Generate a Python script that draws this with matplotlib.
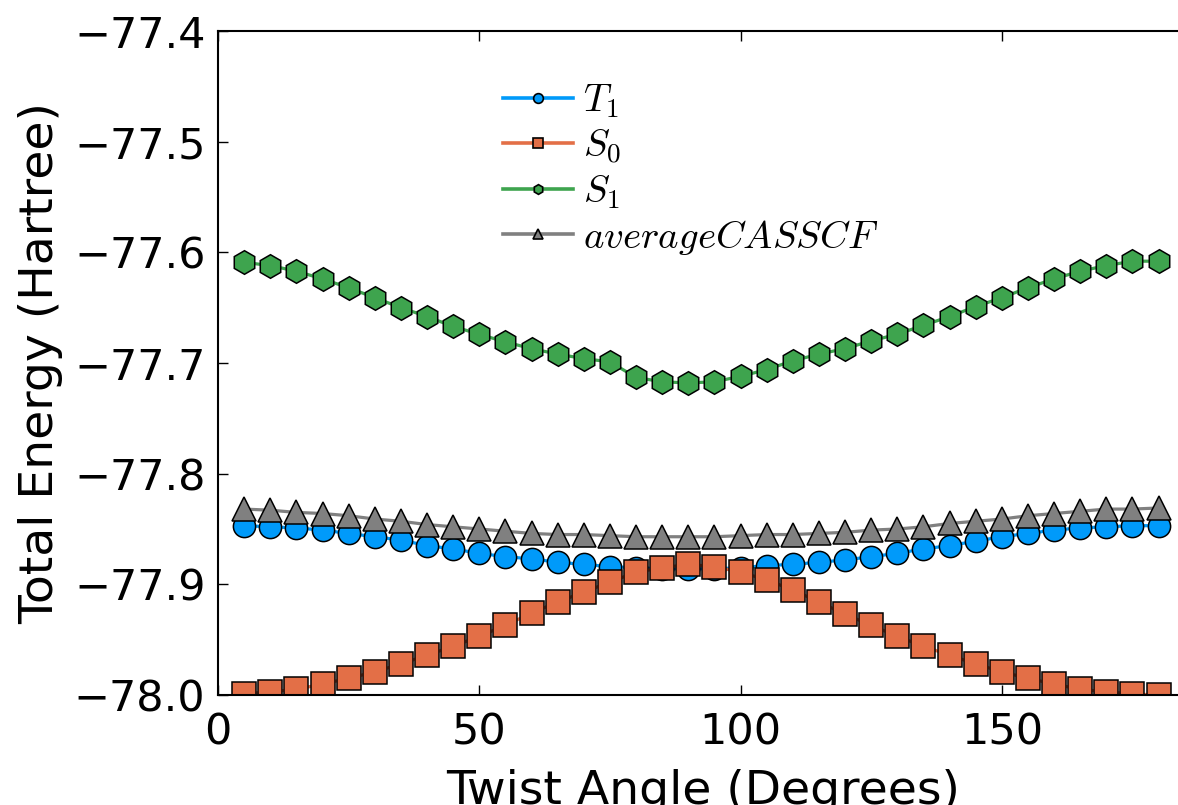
import matplotlib
matplotlib.use("Agg")
import matplotlib.pyplot as plt
from matplotlib.lines import Line2D

plt.rcParams['mathtext.fontset'] = 'cm'
plt.rcParams['font.family'] = 'DejaVu Sans'

# Twist angle (degrees)
angles = [5, 10, 15, 20, 25, 30, 35, 40, 45, 50, 55, 60, 65, 70, 75, 80, 85, 90,
          95, 100, 105, 110, 115, 120, 125, 130, 135, 140, 145, 150, 155, 160, 165, 170, 175, 180]

# Total energies (Hartree)
t1 = [-77.847, -77.848, -77.849, -77.851, -77.854, -77.857, -77.860, -77.865, -77.868,
      -77.872, -77.875, -77.877, -77.880, -77.882, -77.884, -77.885, -77.886, -77.886,
      -77.886, -77.885, -77.883, -77.882, -77.880, -77.878, -77.875, -77.872, -77.868,
      -77.865, -77.861, -77.857, -77.854, -77.851, -77.849, -77.848, -77.847, -77.847]
s0 = [-77.999, -77.997, -77.995, -77.990, -77.985, -77.979, -77.972, -77.964, -77.956,
      -77.947, -77.937, -77.926, -77.916, -77.907, -77.898, -77.889, -77.885, -77.882,
      -77.884, -77.889, -77.896, -77.905, -77.916, -77.927, -77.937, -77.947, -77.956,
      -77.964, -77.972, -77.979, -77.985, -77.990, -77.995, -77.997, -77.999, -78.000]
s1 = [-77.609, -77.612, -77.617, -77.624, -77.632, -77.641, -77.650, -77.658, -77.667,
      -77.674, -77.681, -77.687, -77.692, -77.696, -77.699, -77.713, -77.717, -77.718,
      -77.717, -77.712, -77.706, -77.698, -77.692, -77.687, -77.680, -77.674, -77.666,
      -77.658, -77.649, -77.641, -77.632, -77.624, -77.617, -77.612, -77.608, -77.608]
avg = [-77.832, -77.833, -77.835, -77.836, -77.838, -77.841, -77.843, -77.846, -77.848,
       -77.850, -77.852, -77.854, -77.855, -77.855, -77.856, -77.857, -77.857, -77.857,
       -77.857, -77.856, -77.855, -77.855, -77.854, -77.853, -77.851, -77.850, -77.848,
       -77.845, -77.843, -77.841, -77.838, -77.836, -77.834, -77.832, -77.832, -77.831]

labels = [r'$T_1$', r'$S_0$', r'$S_1$', r'$averageCASSCF$']
colors = ['#009AFA', '#E36F47', '#3EA44E', '#808080']
markers = ['o', 's', 'h', '^']
msizes = [16, 17.5, 17, 17.5]

fig = plt.figure(figsize=(11.78, 8.05), dpi=100)
ax = fig.add_axes([218 / 1178, 110 / 805, 962 / 1178, 664 / 805])

for y, c, m, ms in zip([t1, s0, s1, avg], colors, markers, msizes):
    ax.plot(angles, y, color=c, lw=2.3, marker=m, ms=ms,
            markerfacecolor=c, markeredgecolor='black', markeredgewidth=1.1)

ax.set_xlim(0, 184.1)
ax.set_ylim(-78.0, -77.4)
ax.set_xticks([0, 50, 100, 150])
ax.set_yticks([-78.0, -77.9, -77.8, -77.7, -77.6, -77.5, -77.4])
ax.set_yticklabels(['\u221278.0', '\u221277.9', '\u221277.8', '\u221277.7',
                    '\u221277.6', '\u221277.5', '\u221277.4'])

ax.tick_params(direction='in', top=True, right=False, length=7, width=1.0,
               labelsize=31, pad=9)
ax.tick_params(axis='x', pad=12)
for sp in ax.spines.values():
    sp.set_linewidth(1.5)
# the right edge of the frame falls outside the picture in the reference
ax.spines['right'].set_visible(False)

ax.set_xlabel('Twist Angle (Degrees)', fontsize=34)
ax.set_ylabel('Total Energy (Hartree)', fontsize=34)
ax.xaxis.set_label_coords(0.504, -0.112)
ax.yaxis.set_label_coords(-0.161, 0.5)

# legend with small markers
handles = [Line2D([], [], color=c, lw=2.6, marker=m, ms=7, markerfacecolor=c,
                  markeredgecolor='black', markeredgewidth=1.2)
           for c, m in zip(colors, markers)]
ax.legend(handles, labels, loc='upper left', bbox_to_anchor=(0.2963, 0.924),
          frameon=False, fontsize=28, borderpad=0, borderaxespad=0,
          handlelength=1.8, handletextpad=0.25, labelspacing=0.17)

fig.savefig('out.png', dpi=100)
